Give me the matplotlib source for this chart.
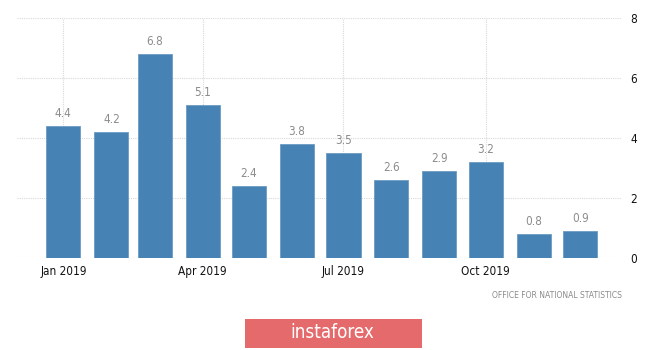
import datetime as dt
import matplotlib.pyplot as plt
import matplotlib.dates as mdates
from matplotlib.patches import FancyBboxPatch

# monthly values, 2019
months = [dt.date(2019, m, 1) for m in range(1, 13)]
values = [4.4, 4.2, 6.8, 5.1, 2.4, 3.8, 3.5, 2.6, 2.9, 3.2, 0.8, 0.9]
tick_months = [dt.date(2019, 1, 1), dt.date(2019, 4, 1), dt.date(2019, 7, 1), dt.date(2019, 10, 1)]
tick_labels = ['Jan 2019', 'Apr 2019', 'Jul 2019', 'Oct 2019']
y_ticks = [0, 2, 4, 6, 8]

plt.rcParams['font.family'] = ['DejaVu Sans']
plt.rcParams['font.stretch'] = 'condensed'

fig = plt.figure(figsize=(6.65, 3.5), dpi=100)
ax = fig.add_axes([17 / 665, 92 / 350, 605 / 665, 240 / 350])

x = mdates.date2num(months)
bars = ax.bar(x, values, width=22, color='#4682b4', edgecolor='#6e9cc4', linewidth=0.6, zorder=3)

for xi, v in zip(x, values):
    ax.text(xi, v + 0.2, f'{v:.1f}', ha='center', va='bottom', fontsize=8.5, color='#8c8c8c', zorder=4)

ax.set_xlim(mdates.date2num(dt.date(2018, 12, 2)), mdates.date2num(dt.date(2019, 12, 28)))
ax.set_ylim(0, 8)

ax.set_xticks(mdates.date2num(tick_months))
ax.set_xticklabels(tick_labels, fontsize=8.5, color='#111111')
ax.set_yticks(y_ticks)
ax.yaxis.tick_right()
ax.tick_params(axis='y', length=0, pad=6, labelsize=8.5, labelcolor='#111111')
ax.tick_params(axis='x', length=0, pad=5)

ax.grid(True, axis='both', color='#d9d9d9', linestyle=(0, (1, 1)), linewidth=0.8, zorder=0)
for s in ax.spines.values():
    s.set_visible(False)

fig.text(622 / 665, 1 - 296 / 350, 'OFFICE FOR NATIONAL STATISTICS',
         ha='right', va='center', fontsize=5.5, color='#8a8a8a', fontstretch='normal')

# logo box
logo = FancyBboxPatch((245 / 665, 1 - 348 / 350), 177 / 665, 29 / 350,
                      boxstyle='square,pad=0', transform=fig.transFigure,
                      facecolor='#e56a6c', edgecolor='none')
fig.patches.append(logo)
fig.text(332 / 665, 1 - 333 / 350, 'instaforex', ha='center', va='center',
         fontsize=13.5, color='white')

fig.savefig('out.png', dpi=100)
